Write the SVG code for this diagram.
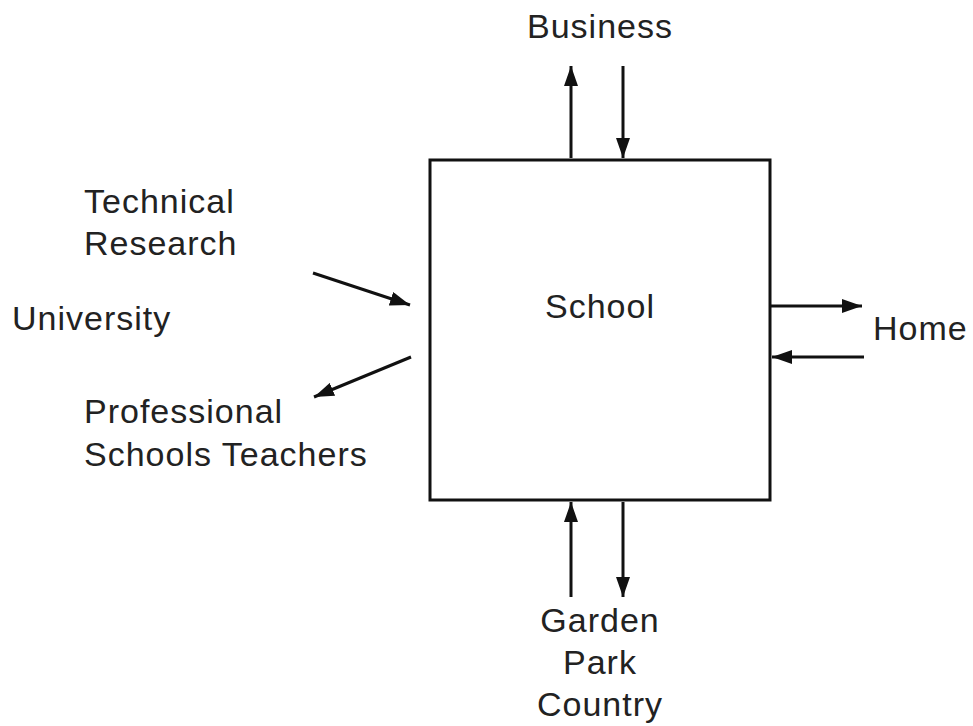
<svg xmlns="http://www.w3.org/2000/svg" width="973" height="726" viewBox="0 0 973 726">
<style>
text{font-family:"Liberation Sans",Arial,sans-serif;font-size:34px;letter-spacing:1px;fill:#222}
.c{text-anchor:middle}
.ln{stroke:#111;stroke-width:3;fill:none}
</style>
<defs>
<marker id="a" viewBox="0 0 20 14" refX="20" refY="7" markerWidth="20" markerHeight="14" orient="auto" markerUnits="userSpaceOnUse">
<path d="M0,0 L20,7 L0,14 z" fill="#111"/>
</marker>
</defs>
<rect width="973" height="726" fill="#fff"/>
<g id="school">
<rect x="430" y="160" width="340" height="340" fill="#fff" stroke="#111" stroke-width="3"/>
<text class="c" x="600" y="318">School</text>
</g>
<g id="business"><text class="c" x="600" y="38">Business</text></g>
<g id="technical"><text x="84" y="213">Technical</text><text x="84" y="255">Research</text></g>
<g id="university"><text x="12" y="330">University</text></g>
<g id="professional"><text x="84" y="423">Professional</text><text x="84" y="466">Schools Teachers</text></g>
<g id="home"><text x="873" y="340">Home</text></g>
<g id="garden"><text class="c" x="600" y="632">Garden</text><text class="c" x="600" y="674">Park</text><text class="c" x="600" y="716">Country</text></g>
<g id="connectors" class="ln">
<line x1="571" y1="158" x2="571" y2="66" marker-end="url(#a)"/>
<line x1="623" y1="66" x2="623" y2="158" marker-end="url(#a)"/>
<line x1="571" y1="597" x2="571" y2="502" marker-end="url(#a)"/>
<line x1="623" y1="502" x2="623" y2="597" marker-end="url(#a)"/>
<line x1="770" y1="306" x2="862" y2="306" marker-end="url(#a)"/>
<line x1="864" y1="357" x2="772" y2="357" marker-end="url(#a)"/>
<line x1="313" y1="273" x2="410" y2="305" marker-end="url(#a)"/>
<line x1="411" y1="357" x2="314" y2="397" marker-end="url(#a)"/>
</g>
</svg>
